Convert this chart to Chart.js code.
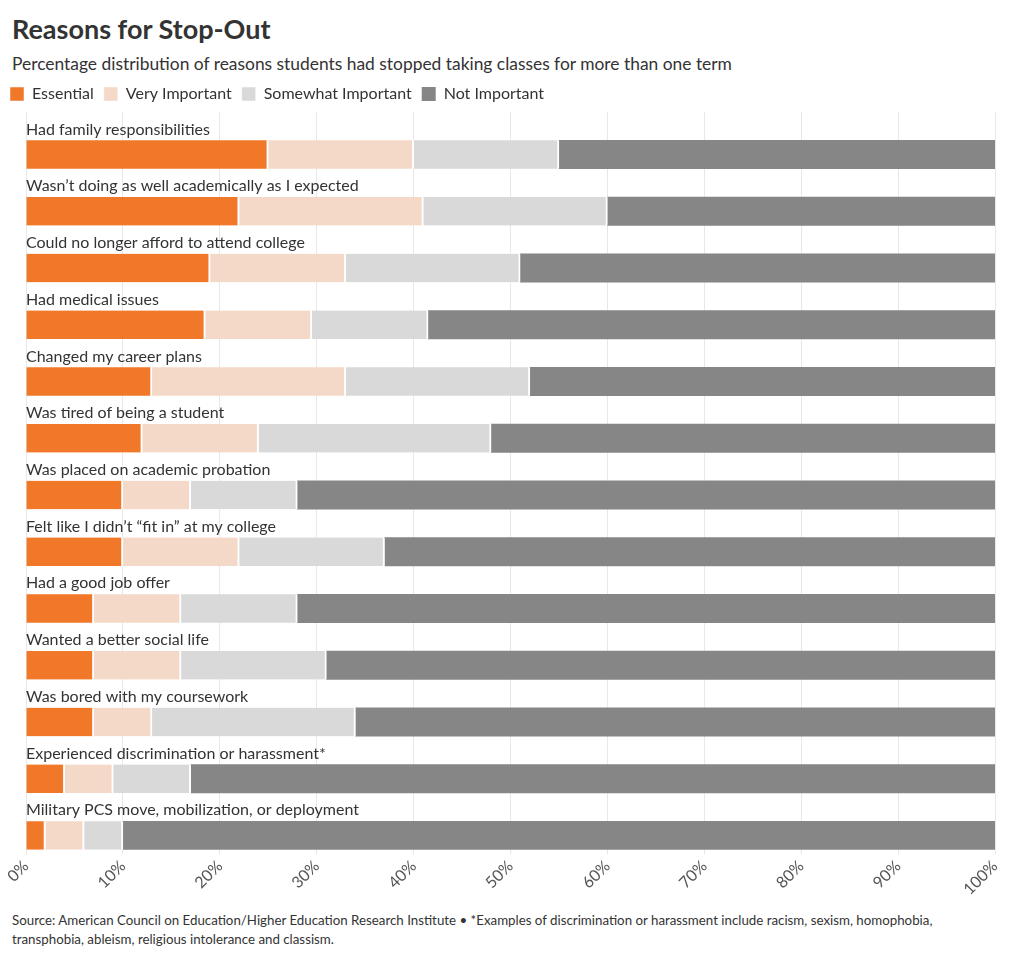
<!DOCTYPE html>
<html>
  <head>
    <script src="https://cdn.jsdelivr.net/npm/chart.js@4"></script>
    <style>
      body { margin: 0; background: #fff; font-family: 'Source Sans Pro', Lato, sans-serif; color: #333; }
      #wrap { position: relative; width: 1020px; height: 960px; }
      #title { position: absolute; left: 12px; top: 12px; font-size: 27px; font-weight: bold; color: #333; }
      #subtitle { position: absolute; left: 12px; top: 53px; font-size: 17.4px; color: #333; }
      #chart { position: absolute; left: 0; top: 68px; }
      #source { position: absolute; left: 12px; top: 911px; font-size: 13.3px; line-height: 19px; color: #333; }
    </style>
  </head>

  <body>
    <div id="wrap">
      <div id="title">Reasons for Stop-Out</div>
      <div id="subtitle">Percentage distribution of reasons students had stopped taking classes for more than one term</div>
      <canvas id="chart" width="1020" height="833"></canvas>
      <div id="source">Source: American Council on Education/Higher Education Research Institute • *Examples of discrimination or harassment include racism, sexism, homophobia,<br>transphobia, ableism, religious intolerance and classism.</div>
    </div>
    <script>
      const reasons = [
        'Had family responsibilities',
        'Wasn\u2019t doing as well academically as I expected',
        'Could no longer afford to attend college',
        'Had medical issues',
        'Changed my career plans',
        'Was tired of being a student',
        'Was placed on academic probation',
        'Felt like I didn\u2019t \u201cfit in\u201d at my college',
        'Had a good job offer',
        'Wanted a better social life',
        'Was bored with my coursework',
        'Experienced discrimination or harassment*',
        'Military PCS move, mobilization, or deployment'
      ];
      const essential = [25, 22, 19, 18.5, 13, 12, 10, 10, 7, 7, 7, 4, 2];
      const veryImportant = [15, 19, 14, 11, 20, 12, 7, 12, 9, 9, 6, 5, 4];
      const somewhatImportant = [15, 19, 18, 12, 19, 24, 11, 15, 12, 15, 21, 8, 4];
      const notImportant = [45, 40, 49, 58.5, 48, 52, 72, 63, 72, 69, 66, 83, 90];
      // empty stack so the bar sits in the lower half of each row, label above it
      const spacer = reasons.map(() => 0);

      const font = "'Source Sans Pro', Lato, sans-serif";
      const seg = (label, data, color, gap) => ({
        label: label,
        data: data,
        backgroundColor: color,
        borderColor: '#fff',
        borderWidth: gap ? { right: 2 } : 0,
        borderSkipped: false,
        stack: 'bars',
      });

      new Chart(document.getElementById('chart'), {
        type: 'bar',
        data: {
          labels: reasons,
          datasets: [
            { label: 'spacer', data: spacer, backgroundColor: 'rgba(0,0,0,0)', stack: 'space' },
            seg('Essential', essential, '#f07828', true),
            seg('Very Important', veryImportant, '#f4d8c8', true),
            seg('Somewhat Important', somewhatImportant, '#d9d9d9', true),
            seg('Not Important', notImportant, '#868686', false),
          ],
        },
        options: {
          indexAxis: 'y',
          responsive: false,
          animation: false,
          layout: {
            padding: { top: 8, left: 0, right: 25, bottom: 0 },
          },
          datasets: {
            bar: { categoryPercentage: 1, barPercentage: 1 },
          },
          scales: {
            x: {
              stacked: true,
              min: 0,
              max: 100,
              grid: { color: '#e8e8e8', tickLength: 5 },
              border: { display: false },
              ticks: {
                stepSize: 10,
                minRotation: 45,
                maxRotation: 45,
                padding: 2,
                color: '#555',
                font: { family: font, size: 16 },
                callback: (v) => v + '%',
              },
            },
            y: {
              stacked: true,
              grid: { display: false },
              border: { display: false },
              afterFit: (s) => { s.width = 26; },
              ticks: {
                mirror: true,
                padding: 0,
                labelOffset: -11,
                autoSkip: false,
                color: '#333',
                font: { family: font, size: 16 },
              },
            },
          },
          plugins: {
            legend: {
              position: 'top',
              align: 'start',
              labels: {
                filter: (item) => item.datasetIndex > 0,
                boxWidth: 14,
                boxHeight: 14,
                padding: 10,
                color: '#333',
                font: { family: font, size: 16 },
              },
            },
            tooltip: { enabled: false },
          },
        },
      });
    </script>
  </body>
</html>
